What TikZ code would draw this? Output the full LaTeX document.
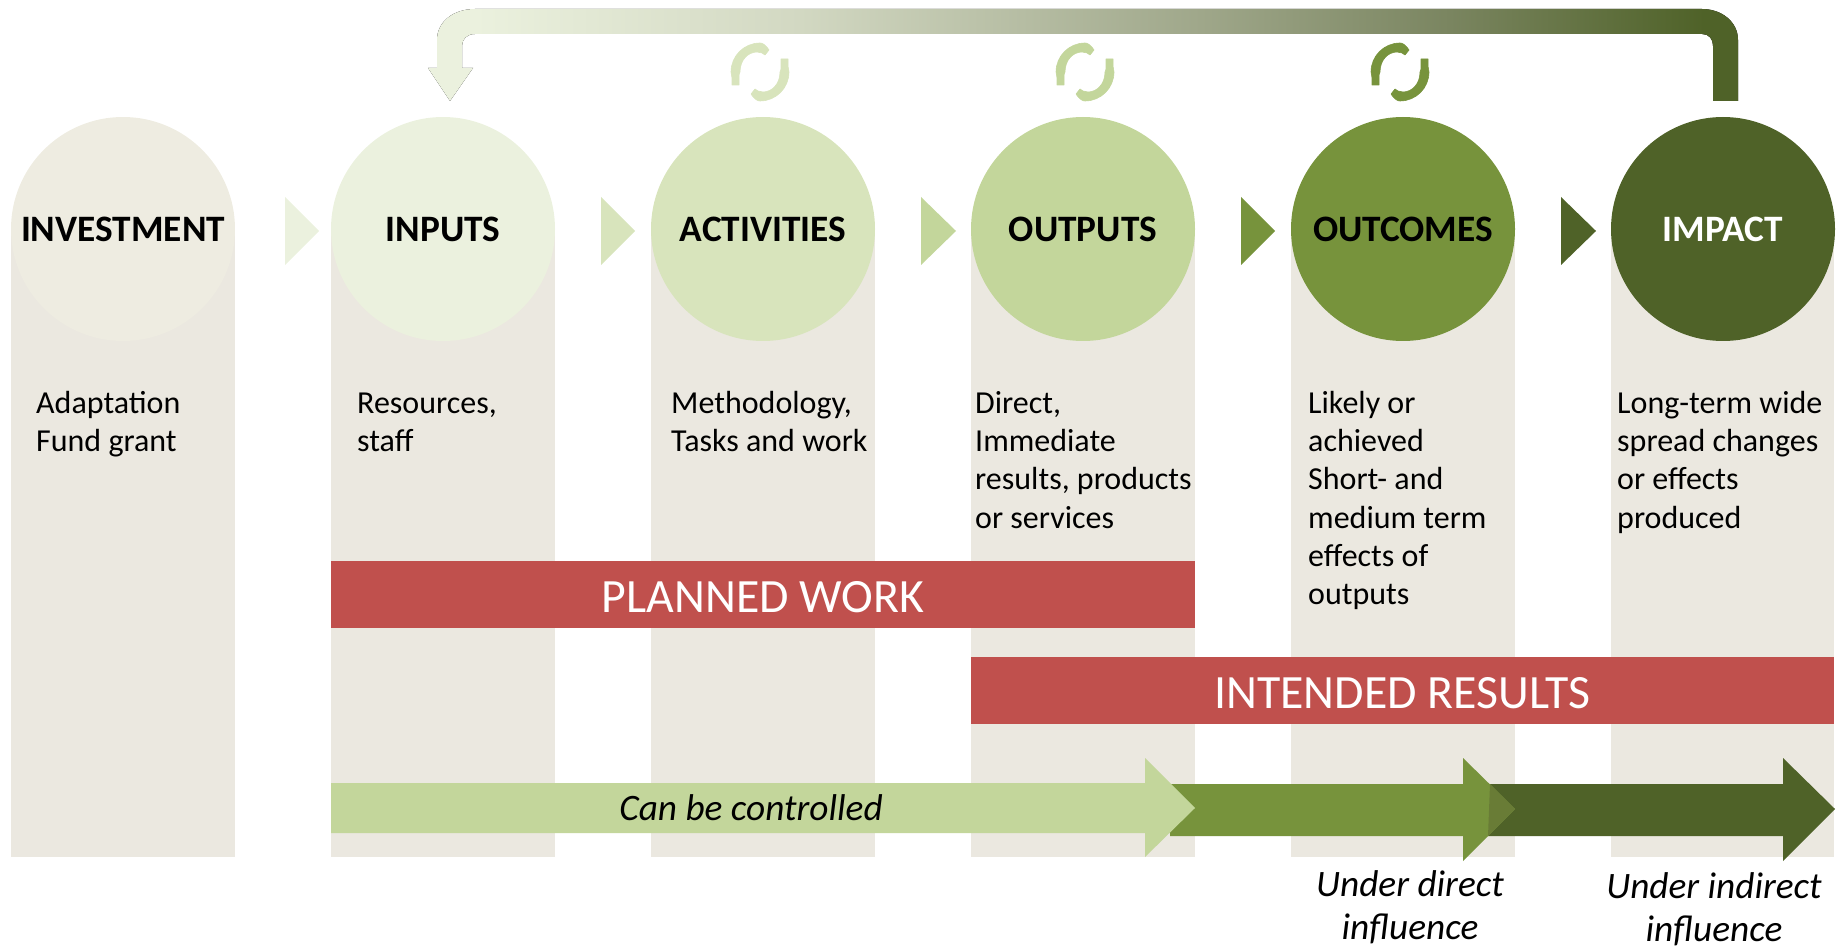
\documentclass[tikz,border=0pt]{standalone}
\usepackage{fontspec}
\setmainfont{Carlito}
\definecolor{colbg}{HTML}{EBE8E0}
\definecolor{cinv}{HTML}{EEECE1}
\definecolor{cinp}{HTML}{EBF1DE}
\definecolor{cact}{HTML}{D8E4BC}
\definecolor{cout}{HTML}{C3D69B}
\definecolor{coc}{HTML}{77933C}
\definecolor{cimp}{HTML}{4F6228}
\definecolor{cred}{HTML}{C0504D}
\definecolor{cover}{HTML}{697C36}
\definecolor{gradb}{HTML}{D2D8C2}
\definecolor{gradc}{HTML}{9FA78A}
\definecolor{gradd}{HTML}{7A8560}
\pgfdeclarehorizontalshading{fbgrad}{100bp}{color(0bp)=(cinp); color(26.8bp)=(cinp); color(39.2bp)=(gradb); color(54.5bp)=(gradc); color(64bp)=(gradd); color(73.7bp)=(cimp); color(100bp)=(cimp)}
\newcommand{\headtext}[1]{\raisebox{-13pt}[0pt][0pt]{#1}}
\newcommand{\bantext}[1]{\raisebox{-17.5pt}[0pt][0pt]{#1}}
\tikzset{
  x=1pt,y=-1pt,
  colbar/.style={fill=colbg,draw=none},
  disc/.style={circle,draw=none,minimum size=224pt,inner sep=0pt,font=\fontsize{37.3}{44}\selectfont\bfseries,text=black},
  body/.style={anchor=north west,inner sep=0pt,align=left,font=\fontsize{32}{38.2}\selectfont,text=black},
  banner/.style={fill=cred,draw=none,inner sep=0pt,text=white,font=\fontsize{47.8}{56}\selectfont},
  infl/.style={inner sep=0pt,align=center,font=\fontsize{37.3}{43.5}\selectfont\itshape,text=black},
}
\newcommand{\cycleicon}[3]{%
  \begin{scope}[shift={(#1,#2)}]
    \foreach \r in {0,180}{
      \fill[#3,rotate=\r,line join=round,draw=#3,line width=.6pt]
        (9,-22) .. controls (5,-28) and (2,-29) .. (0,-29)
        .. controls (-16,-29) and (-29,-16) .. (-29,0)
        -- (-28,6) -- (-28,13) -- (-21,13) -- (-21,3) -- (-20,0)
        .. controls (-20,-12) and (-12,-20) .. (-3,-20)
        -- (2,-19) -- (5,-17) -- cycle;
    }
  \end{scope}}
\begin{document}
\begin{tikzpicture}
\useasboundingbox (0,0) rectangle (1841,949);
% columns
\fill[colbar] (11,229) rectangle (235,857);
\fill[colbar] (331,229) rectangle (555,857);
\fill[colbar] (651,229) rectangle (875,857);
\fill[colbar] (971,229) rectangle (1195,857);
\fill[colbar] (1291,229) rectangle (1515,857);
\fill[colbar] (1611,229) rectangle (1834,857);
% circles
\node[disc,fill=cinv] (investment) at (123,229) {\headtext{INVESTMENT}};
\node[disc,fill=cinp] (inputs) at (443,229) {\headtext{INPUTS}};
\node[disc,fill=cact] (activities) at (763,229) {\headtext{ACTIVITIES}};
\node[disc,fill=cout] (outputs) at (1083,229) {\headtext{OUTPUTS}};
\node[disc,fill=coc] (outcomes) at (1403,229) {\headtext{OUTCOMES}};
\node[disc,fill=cimp,text=white] (impact) at (1723,229) {\headtext{IMPACT}};
% triangles
\fill[cinp] (285,197) -- (319,231) -- (285,265) -- cycle;
\fill[cact] (601,197) -- (635,231) -- (601,265) -- cycle;
\fill[cout] (921,197) -- (956,231) -- (921,265) -- cycle;
\fill[coc] (1241,197) -- (1275,231) -- (1241,265) -- cycle;
\fill[cimp] (1561,197) -- (1596,231) -- (1561,265) -- cycle;
% feedback arrow
\fill[shading=fbgrad]
  (1738,101) -- (1713,101) -- (1713,46) .. controls (1713,39) and (1709,34) .. (1702,34)
  -- (475,34) .. controls (467,34) and (462,39) .. (462,46) -- (462,68) -- (473,68)
  -- (450,101) -- (428,68) -- (437,68) -- (437,40) .. controls (437,22) and (453,9) .. (475,9)
  -- (1702,9) .. controls (1722,9) and (1738,22) .. (1738,40) -- cycle;
% cycle icons
\cycleicon{760}{72}{cact}
\cycleicon{1085}{72}{cout}
\cycleicon{1400}{72}{coc}
% body texts
\node[body] (t1) at (36,386.5) {\strut Adaptation\\Fund grant};
\node[body] (t2) at (357,386.5) {\strut Resources,\\staff};
\node[body] (t3) at (671,386.5) {\strut Methodology,\\Tasks and work};
\node[body] (t4) at (975,386.5) {\strut Direct,\\Immediate\\results, products\\or services};
\node[body] (t5) at (1308,386.5) {\strut Likely or\\achieved\\Short- and\\medium term\\effects of\\outputs};
\node[body] (t6) at (1617,386.5) {\strut Long-term wide\\spread changes\\or effects\\produced};
% banners
\node[banner,minimum width=864pt,minimum height=67pt] (planned) at (763,594.5) {\bantext{PLANNED WORK}};
\node[banner,minimum width=863pt,minimum height=67pt] (intended) at (1402.5,690.5) {\bantext{INTENDED RESULTS}};
% long arrows
\fill[cimp] (1487,784) -- (1783,784) -- (1783,758) -- (1835,809) -- (1783,861) -- (1783,836) -- (1487,836) -- cycle;
\fill[coc] (1170,784) -- (1463,784) -- (1463,758) -- (1515,809) -- (1463,861) -- (1463,836) -- (1170,836) -- cycle;
\fill[cover] (1490,784) -- (1515,809) -- (1488,836) -- cycle;
\fill[cout] (331,783) -- (1145,783) -- (1145,758) -- (1195,808) -- (1145,857) -- (1145,833) -- (331,833) -- cycle;
\node[infl] (ctrl) at (751,808) {Can be controlled};
\node[infl] (direct) at (1410,907) {Under direct\\influence};
\node[infl] (indirect) at (1714,909) {Under indirect\\influence};
\end{tikzpicture}
\end{document}
